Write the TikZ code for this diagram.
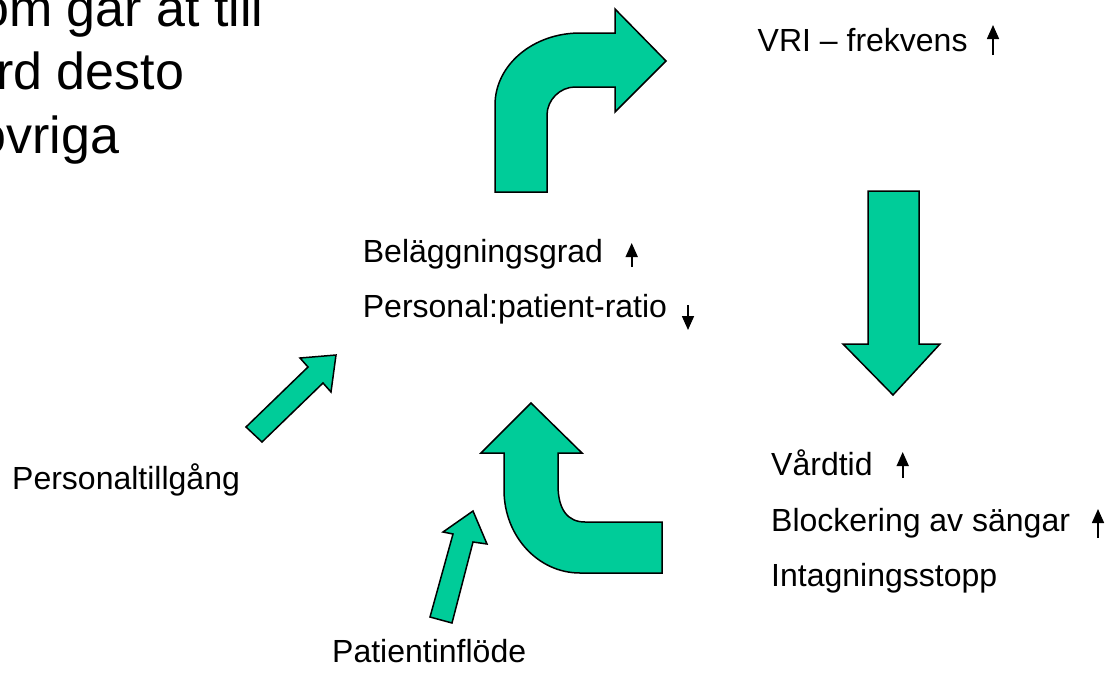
\documentclass[tikz,border=0pt]{standalone}
\usepackage{fontspec}
\setmainfont{Liberation Sans}
\usetikzlibrary{arrows.meta}
\definecolor{arrowgreen}{HTML}{00CC99}
\tikzset{
  blockarrow/.style={fill=arrowgreen, draw=black, line width=1.5pt, line join=miter},
  lbl/.style={font=\fontsize{32}{38}\selectfont, anchor=base west, inner sep=0pt},
  bigtext/.style={font=\fontsize{52}{62}\selectfont, anchor=base west, inner sep=0pt},
  trend/.style={line width=1.6pt, -{Triangle[length=14pt,width=12pt]}},
}
\begin{document}
\begin{tikzpicture}[x=1pt,y=-1pt]
\useasboundingbox (0,0) rectangle (1113,688);
\begin{scope}
\clip (0,0) rectangle (1113,688);
\node[bigtext] (t1) at (-20,26) {om går åt till};
\node[bigtext] (t2) at (-4,89.5) {rd desto};
\node[bigtext] (t3) at (-22.5,153) {övriga};
\end{scope}

% top curved arrow
\path[blockarrow] (495,192) -- (495,105)
  .. controls (495,65) and (533,33) .. (580,33)
  -- (615,33) -- (615,9) -- (666,61) -- (615,112) -- (615,87) -- (575,87)
  .. controls (560,87) and (547,100) .. (547,115)
  -- (547,192) -- cycle;

% down arrow
\path[blockarrow] (868,191) -- (919,191) -- (919,344) -- (940,344)
  -- (893,395) -- (843,344) -- (868,344) -- cycle;

% bottom U arrow
\path[blockarrow] (531,403) -- (582,453) -- (558,453) -- (558,485)
  .. controls (558,510) and (568,522) .. (585,522)
  -- (662,522) -- (662,573) -- (580,573)
  .. controls (538,573) and (504,536) .. (504,490)
  -- (504,453) -- (481,453) -- cycle;

% small arrow from Personaltillgång
\path[blockarrow] (246,427) -- (308,367) -- (300,358) -- (336,355)
  -- (331,392) -- (323,383) -- (262,442) -- cycle;

% small arrow from Patientinflöde
\path[blockarrow] (430,617) -- (453,534) -- (443,532) -- (473,511)
  -- (487,544) -- (473,542) -- (452,623) -- cycle;

% labels
\node[lbl] (vri) at (757.5,51.7) {VRI – frekvens};
\node[lbl] (bel) at (362.7,262) {Beläggningsgrad};
\node[lbl] (ratio) at (362.7,317) {Personal:patient-ratio};
\node[lbl] (vard) at (771,475) {Vårdtid};
\node[lbl] (block) at (771,531.7) {Blockering av sängar};
\node[lbl] (intag) at (771,586.7) {Intagningsstopp};
\node[lbl] (pers) at (12,489) {Personaltillgång};
\node[lbl] (pat) at (332,662) {Patientinflöde};

% trend markers
\coordinate (vriA) at (993,55);   \coordinate (vriB) at (993,25);
\coordinate (belA) at (631.7,267); \coordinate (belB) at (631.7,243);
\coordinate (ratA) at (688,305);  \coordinate (ratB) at (688,330);
\coordinate (vardA) at (902.7,478); \coordinate (vardB) at (902.7,452);
\coordinate (blkA) at (1098,538); \coordinate (blkB) at (1098,509);
\draw[trend] (vriA) -- (vriB);
\draw[trend] (belA) -- (belB);
\draw[trend] (ratA) -- (ratB);
\draw[trend] (vardA) -- (vardB);
\draw[trend] (blkA) -- (blkB);
\end{tikzpicture}
\end{document}
